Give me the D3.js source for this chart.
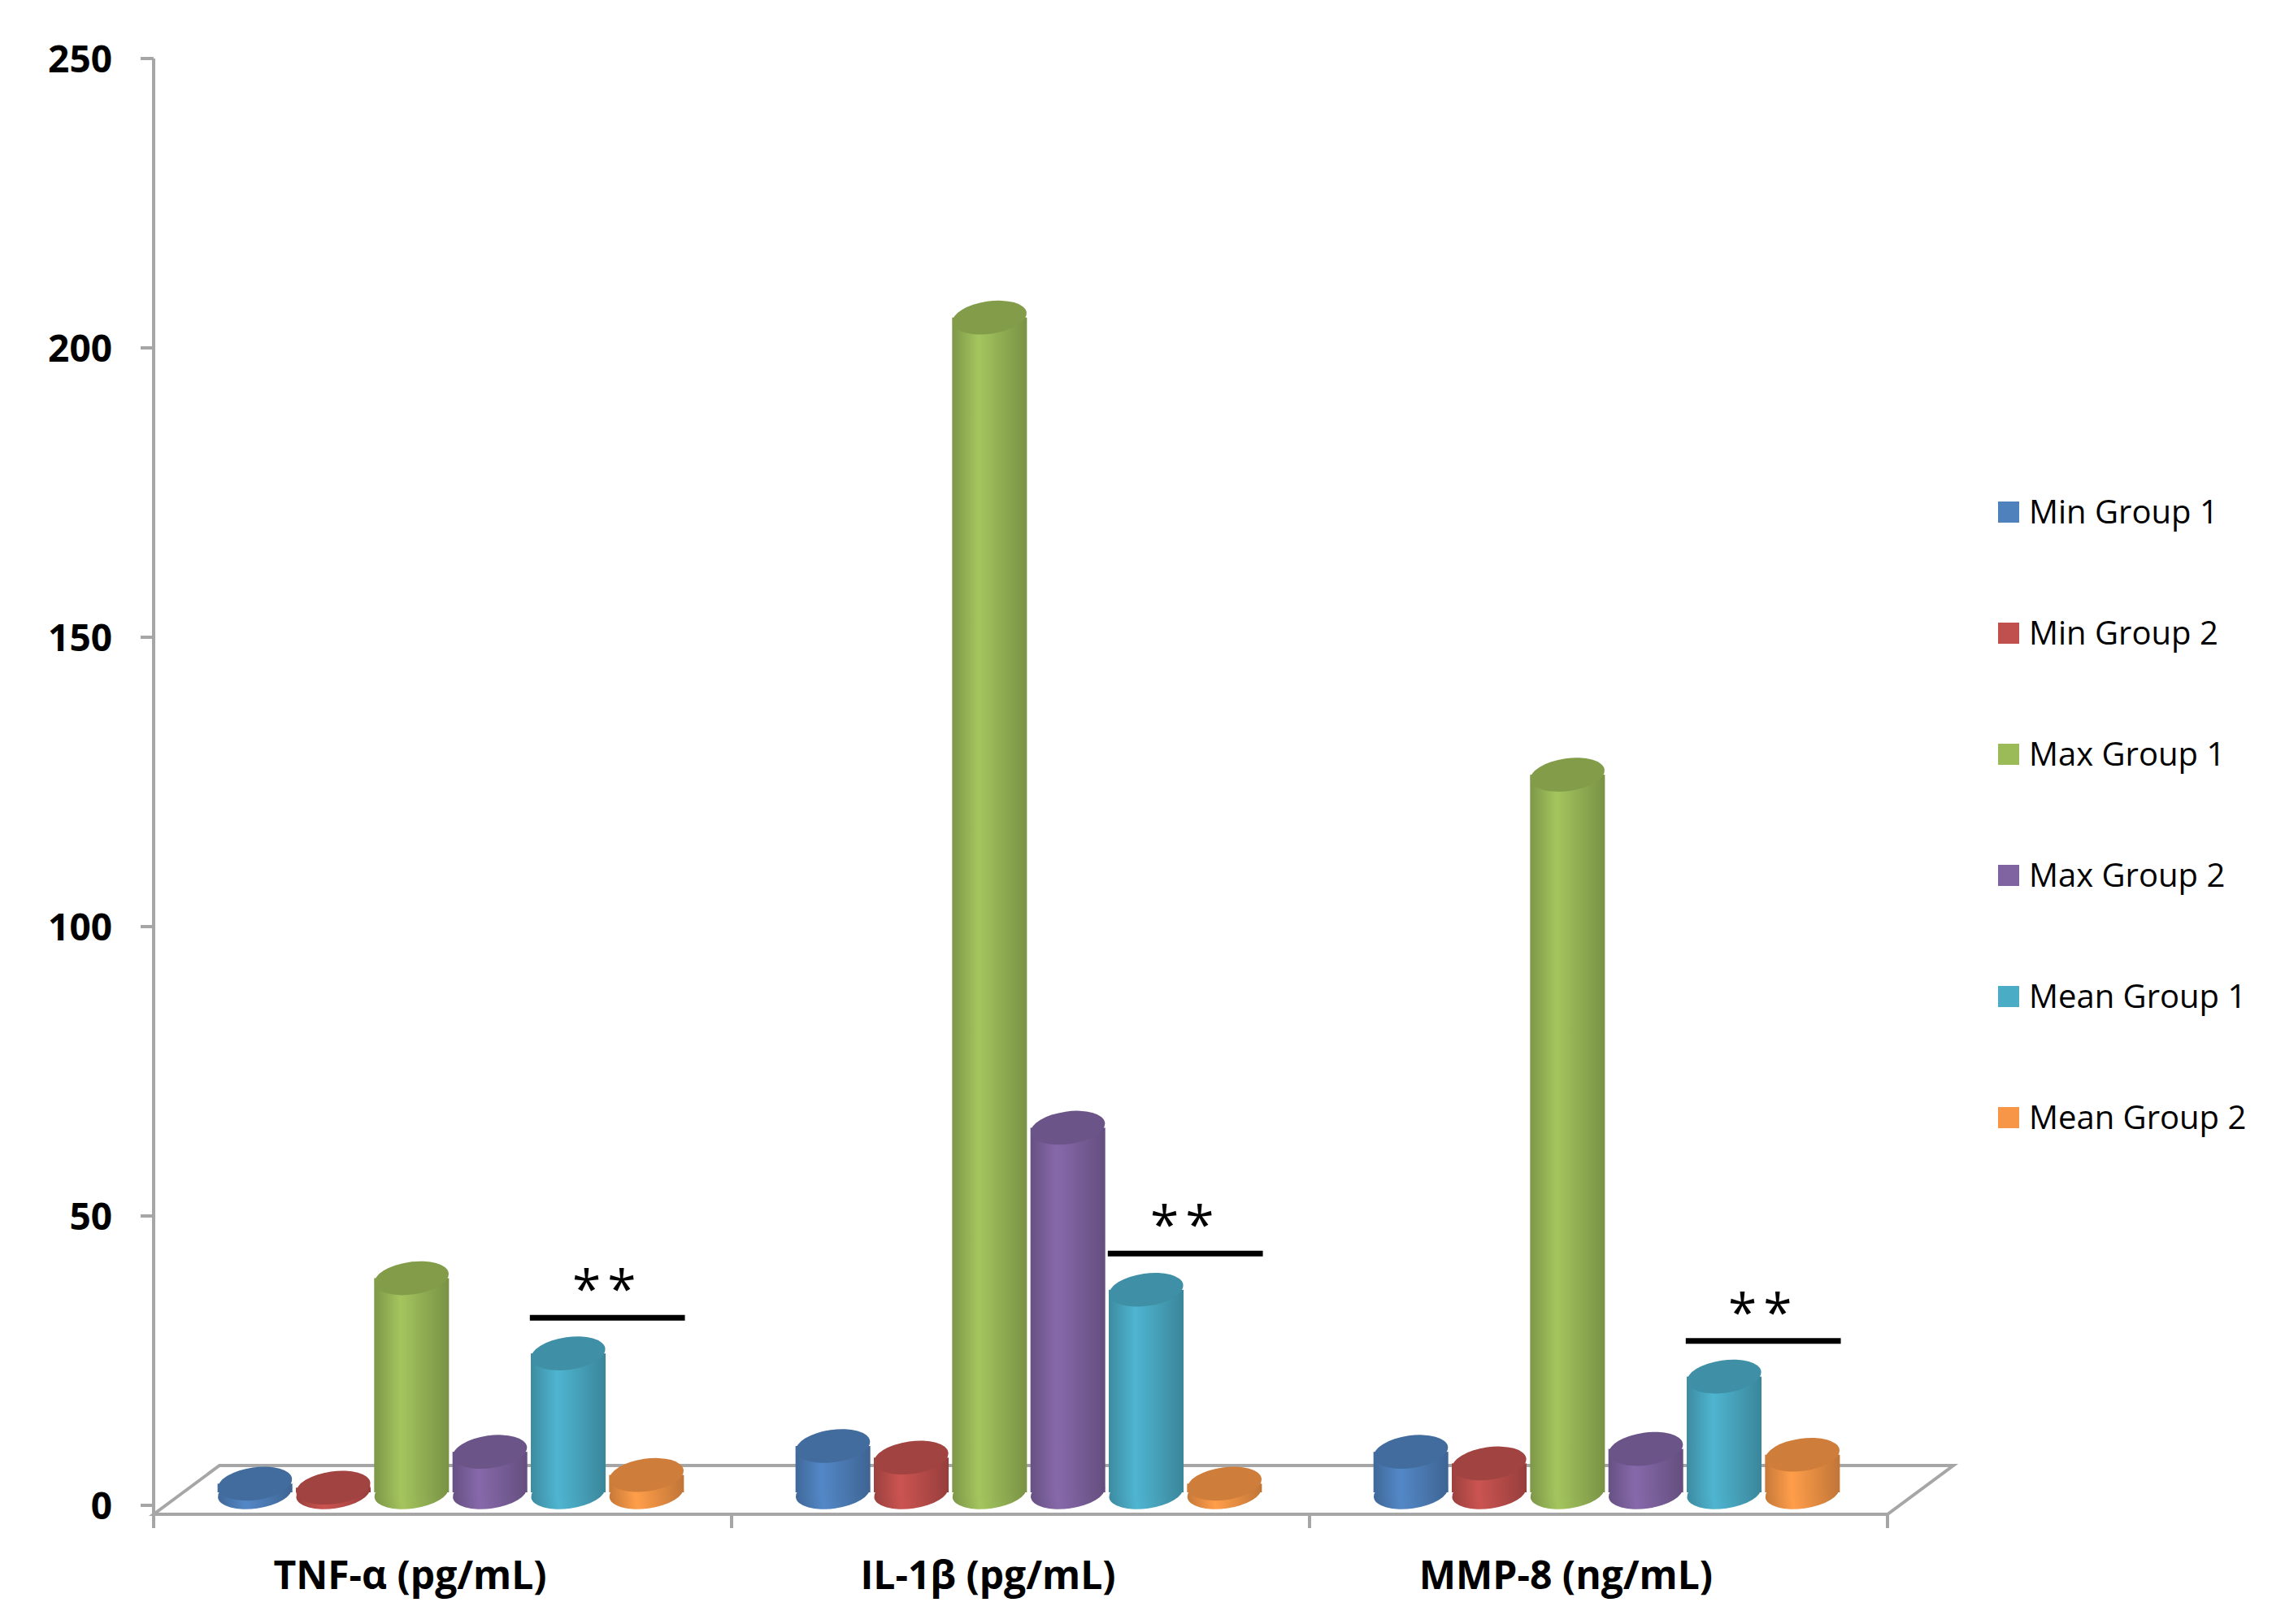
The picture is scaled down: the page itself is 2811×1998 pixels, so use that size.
<!DOCTYPE html>
<html>
<head>
<meta charset="utf-8">
<script src="https://cdn.jsdelivr.net/npm/d3@7"></script>
<style>
  body { margin: 0; background: #fff; }
  text { font-family: "Open Sans", "DejaVu Sans", sans-serif; }
</style>
</head>
<body>
<svg id="chart" width="2811" height="1998"></svg>
<script>
var categories = ["TNF-\u03b1 (pg/mL)", "IL-1\u03b2 (pg/mL)", "MMP-8 (ng/mL)"];
var seriesNames = ["Min Group 1", "Min Group 2", "Max Group 1", "Max Group 2", "Mean Group 1", "Mean Group 2"];
var seriesColors = ["#4f81bd", "#c0504d", "#9bbb59", "#8064a2", "#4bacc6", "#f79646"];
var minGroup1 = [1.5, 8, 7];
var minGroup2 = [0.8, 6, 5];
var maxGroup1 = [37, 203, 124];
var maxGroup2 = [7, 63, 7.5];
var meanGroup1 = [24, 35, 20];
var meanGroup2 = [3, 1.5, 6.5];
var sigLevel = [32.4, 43.5, 28.4];
var yTicks = [0, 50, 100, 150, 200, 250];

var allSeries = [minGroup1, minGroup2, maxGroup1, maxGroup2, meanGroup1, meanGroup2];
var svg = d3.select("#chart");
var defs = svg.append("defs");

var x0 = 189, x1 = 2322;
var y = d3.scaleLinear().domain([0, 250]).range([1852, 72]);
var barBase = 1836, baseOff = 1852 - barBase;
var x = d3.scaleBand().domain(categories).range([x0, x1]);
var xs = d3.scaleBand().domain(d3.range(6)).range([0, x.bandwidth()]).paddingInner(0.02).paddingOuter(0.7);

// gradients for cylinders
seriesColors.forEach(function (c, i) {
  var g = defs.append("linearGradient").attr("id", "g" + i);
  var col = d3.color(c);
  g.append("stop").attr("offset", "0%").attr("stop-color", col.darker(0.6));
  g.append("stop").attr("offset", "35%").attr("stop-color", col.brighter(0.15));
  g.append("stop").attr("offset", "100%").attr("stop-color", col.darker(0.7));
});

// floor
var axisCol = "#a6a6a6";
var dx = 81, dy = -60;
svg.append("path")
  .attr("d", "M" + x0 + "," + 1863 + "L" + (x0 + dx) + "," + (1863 + dy) + "L" + (x1 + dx) + "," + (1863 + dy) + "L" + x1 + "," + 1863 + "Z")
  .attr("fill", "none").attr("stroke", axisCol).attr("stroke-width", 4);

// y axis
svg.append("line").attr("x1", x0).attr("x2", x0).attr("y1", y(250)).attr("y2", 1863)
  .attr("stroke", axisCol).attr("stroke-width", 4);
yTicks.forEach(function (t) {
  svg.append("line").attr("x1", x0 - 16).attr("x2", x0).attr("y1", y(t)).attr("y2", y(t))
    .attr("stroke", axisCol).attr("stroke-width", 4);
  svg.append("text").attr("x", 138).attr("y", y(t)).attr("dy", "0.36em")
    .attr("text-anchor", "end").attr("font-size", 46).attr("font-weight", "bold").text(t);
});

// x axis ticks and labels
[x0].concat(categories.map(function (c) { return x(c) + x.bandwidth(); })).forEach(function (px) {
  svg.append("line").attr("x1", px).attr("x2", px).attr("y1", 1863).attr("y2", 1880)
    .attr("stroke", axisCol).attr("stroke-width", 4);
});
categories.forEach(function (c) {
  svg.append("text").attr("x", x(c) + x.bandwidth() / 2 - 40).attr("y", 1955)
    .attr("text-anchor", "middle").attr("font-size", 48).attr("font-weight", "bold").text(c);
});

// cylinders
var rx = 46, ry = 20;
categories.forEach(function (c, ci) {
  allSeries.forEach(function (s, si) {
    var cx = x(c) + xs(si) + xs.bandwidth() / 2 + 10;
    var top = y(s[ci]) - baseOff;
    var col = d3.color(seriesColors[si]);
    var g = svg.append("g");
    g.append("ellipse").attr("cx", cx).attr("cy", barBase).attr("rx", rx).attr("ry", ry)
      .attr("fill", "url(#g" + si + ")").attr("transform", "rotate(-8," + cx + "," + barBase + ")");
    g.append("rect").attr("x", cx - rx).attr("y", top).attr("width", 2 * rx).attr("height", barBase - top)
      .attr("fill", "url(#g" + si + ")");
    g.append("ellipse").attr("cx", cx).attr("cy", top).attr("rx", rx).attr("ry", ry)
      .attr("fill", col.darker(0.5)).attr("transform", "rotate(-8," + cx + "," + top + ")");
  });
});

// significance marks over Mean Group 1 / Mean Group 2
categories.forEach(function (c, ci) {
  var xa = x(c) + xs(4) + 10, xb = x(c) + xs(5) + xs.bandwidth() + 10;
  var ly = y(sigLevel[ci]);
  svg.append("line").attr("x1", xa).attr("x2", xb).attr("y1", ly).attr("y2", ly)
    .attr("stroke", "#000").attr("stroke-width", 7);
  svg.append("text").attr("x", (xa + xb) / 2).attr("y", ly - 12).attr("text-anchor", "middle")
    .attr("font-size", 64).attr("font-family", "DejaVu Sans").attr("letter-spacing", 8).text("**");
});

// legend
seriesNames.forEach(function (n, i) {
  var ly = 630 + i * 149;
  svg.append("rect").attr("x", 2458).attr("y", ly - 13).attr("width", 26).attr("height", 26)
    .attr("fill", seriesColors[i]);
  svg.append("text").attr("x", 2496).attr("y", ly).attr("dy", "0.36em")
    .attr("font-size", 40).text(n);
});
</script>
</body>
</html>
